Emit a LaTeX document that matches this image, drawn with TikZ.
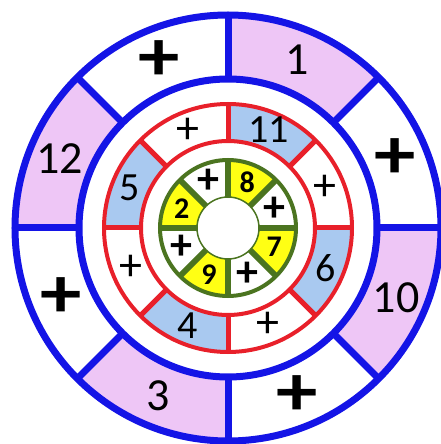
\documentclass[tikz,border=0pt]{standalone}
\usepackage{fontspec}
\setmainfont{Carlito}
\usetikzlibrary{positioning}
\definecolor{ringBlue}{HTML}{1414E6}
\definecolor{ringRed}{HTML}{E8202A}
\definecolor{ringGreen}{HTML}{4B7420}
\definecolor{fillPink}{HTML}{EEC6F6}
\definecolor{fillSky}{HTML}{A9C9F0}
\definecolor{fillYellow}{HTML}{FFFF14}

\begin{document}
\begin{tikzpicture}[x=1pt, y=1pt,
  blueLine/.style={draw=ringBlue, line width=7pt},
  redLine/.style={draw=ringRed, line width=4pt},
  redCut/.style={draw=ringRed, line width=5pt},
  greenLine/.style={draw=ringGreen, line width=4pt},
  greenCut/.style={draw=ringGreen, line width=6pt},
  outerNum/.style={font=\fontsize{46}{46}\selectfont},
  outerPlus/.style={font=\fontsize{72}{72}\selectfont\bfseries, xscale=1.15},
  midNum/.style={font=\fontsize{40}{40}\selectfont},
  midPlus/.style={font=\fontsize{46}{46}\selectfont},
  innerNum/.style={font=\fontsize{30}{30}\selectfont\bfseries},
  innerPlus/.style={font=\fontsize{44}{44}\selectfont\bfseries},
]
  \useasboundingbox (-228,-216) rectangle (213,228);

  % coloured sectors
  \foreach \a in {45,135,225,315} {
    \fill[fillPink] (\a:149) arc[start angle=\a, end angle={\a+45}, radius=149]
      -- ({\a+45}:213) arc[start angle={\a+45}, end angle=\a, radius=213] -- cycle;
    \fill[fillSky] (\a:87) arc[start angle=\a, end angle={\a+45}, radius=87]
      -- ({\a+45}:124) arc[start angle={\a+45}, end angle=\a, radius=124] -- cycle;
    \fill[fillYellow] (\a:31) arc[start angle=\a, end angle={\a+45}, radius=31]
      -- ({\a+45}:68) arc[start angle={\a+45}, end angle=\a, radius=68] -- cycle;
  }

  % spokes
  \foreach \a in {0,45,...,315} {
    \draw[blueLine] (\a:149) -- (\a:213);
    \draw[redCut] (\a:87) -- (\a:124);
    \draw[greenCut] (\a:31) -- (\a:68);
  }

  % rings
  \draw[blueLine] (0,0) circle[radius=213] (0,0) circle[radius=149];
  \draw[redLine] (0,0) circle[radius=124] (0,0) circle[radius=87];
  \draw[greenLine] (0,0) circle[radius=68];
  \draw[ringGreen, line width=1.5pt] (0,0) circle[radius=31];

  % outer ring labels
  \foreach \a/\t/\n in {67.5/1/o1, 157.5/12/o12, 247.5/3/o3, 337.5/10/o10}
    \node[outerNum] (\n) at (\a:182) {\t};
  \foreach \a/\n in {112.5/oPa, 22.5/oPb, 292.5/oPc, 202.5/oPd}
    \node[outerPlus] (\n) at (\a:181) {+};

  % middle ring labels
  \foreach \a/\t/\n in {67.5/11/m11, 157.5/5/m5, 247.5/4/m4, 337.5/6/m6}
    \node[midNum] (\n) at (\a:106) {\t};
  \foreach \a/\n in {112.5/mPa, 22.5/mPb, 292.5/mPc, 202.5/mPd}
    \node[midPlus] (\n) at (\a:105) {+};

  % inner ring labels
  \foreach \a/\t/\n in {67.5/8/i8, 157.5/2/i2, 247.5/9/i9, 337.5/7/i7}
    \node[innerNum] (\n) at (\a:50) {\t};
  \foreach \a/\n in {112.5/iPa, 22.5/iPb, 292.5/iPc, 202.5/iPd}
    \node[innerPlus] (\n) at (\a:50) {+};
\end{tikzpicture}
\end{document}
